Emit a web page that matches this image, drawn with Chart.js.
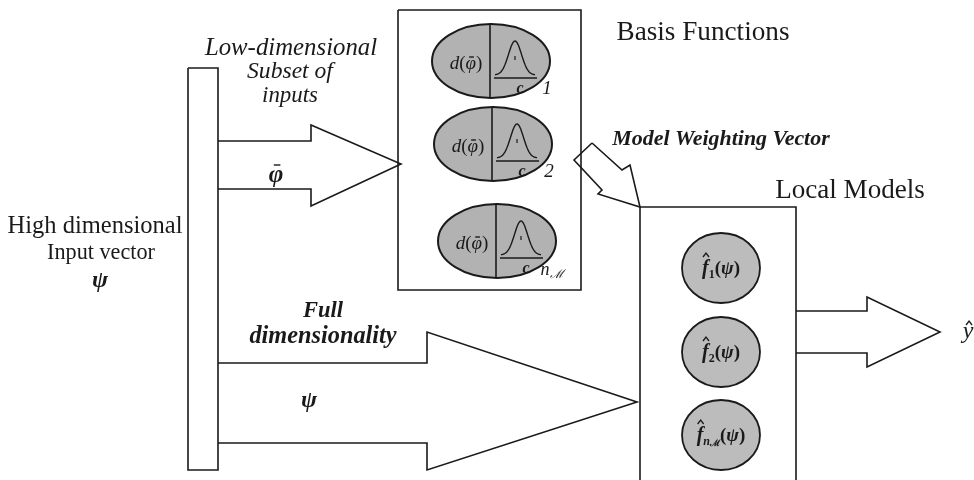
<!DOCTYPE html>
<html>
<head>
<meta charset="utf-8">
<script src="https://cdn.jsdelivr.net/npm/chart.js@4"></script>
<style>
  html, body { margin: 0; padding: 0; background: #fff; }
  #diagrama { display: block; }
</style>
</head>
<body>
<canvas id="diagrama" width="974" height="480"></canvas>
<script>
// Outlines of the diagram, in axis units (x 0..974, y 0..480 from the top)
const inputBar = [[188, 68], [218, 68], [218, 470], [188, 470], [188, 68]];
const subsetArrow = [[218, 141], [311, 141], [311, 125], [401, 164], [311, 206], [311, 189], [218, 189]];
const fullArrow = [[218, 363], [427, 363], [427, 332], [637, 402], [427, 470], [427, 443], [218, 443]];
const outputArrow = [[796, 311], [867, 311], [867, 297], [940, 332], [867, 367], [867, 353], [796, 353]];
const weightArrow = [[592, 143], [622, 170], [630, 165], [640, 207], [598, 194], [602, 190], [574, 160], [592, 143]];
const basisBox = [[398, 10], [581, 10], [581, 290], [398, 290], [398, 10]];
const localBox = [[640, 490], [640, 207], [796, 207], [796, 490]];

// Basis function cells and local model nodes
const basisCentres = [[491, 61], [493, 144], [497, 241]];
const basisIndex = ["1", "2", "n"];
const modelCentres = [[721, 268], [721, 352], [721, 435]];
const modelIndex = ["1", "2", "n"];

// Plain text labels: text, centre x, baseline y, width in the figure
const etiquetas = [
    ["Low-dimensional", 291, 55, 172, "italic"],
    ["Subset of", 290, 78, 86, "italic"],
    ["inputs", 290, 102, 56, "italic"],
    ["High dimensional", 95, 233, 175, ""],
    ["Input vector", 101, 259, 108, ""],
    ["Full", 323, 317, 40, "italic bold"],
    ["dimensionality", 323, 343, 147, "italic bold"],
    ["Basis Functions", 703, 40, 173, ""],
    ["Model Weighting Vector", 721, 145, 217, "italic bold"],
    ["Local Models", 850, 198, 150, ""]
];

const SERIF = '"Liberation Serif", "DejaVu Serif", serif';
const INK = "#1a1a1a";

function fuente(estilo, size) {
    return (estilo ? estilo + " " : "") + size.toFixed(1) + "px " + SERIF;
}

// writes a row of segments centred at cx, baseline y
function textoRico(ctx, segs, cx, y) {
    let total = 0;
    segs.forEach(function (s) {
        ctx.font = s.f;
        s.w = ctx.measureText(s.t).width;
        total += s.w;
    });
    let x = cx - total / 2;
    ctx.textAlign = "left";
    ctx.textBaseline = "alphabetic";
    segs.forEach(function (s) {
        ctx.font = s.f;
        const yy = y + (s.dy || 0);
        ctx.fillText(s.t, x, yy);
        const m = ctx.measureText(s.t);
        if (s.bar) {
            const top = yy - m.actualBoundingBoxAscent - (s.gap || 2);
            ctx.beginPath();
            ctx.moveTo(x + s.w * 0.35, top);
            ctx.lineTo(x + s.w * 0.8, top);
            ctx.lineWidth = 1.4;
            ctx.stroke();
        }
        if (s.hat) {
            const top = yy - m.actualBoundingBoxAscent - 2;
            const mid = x + s.w * 0.6;
            ctx.beginPath();
            ctx.moveTo(mid - 3, top);
            ctx.lineTo(mid, top - 4);
            ctx.lineTo(mid + 3, top);
            ctx.lineWidth = 1.3;
            ctx.stroke();
        }
        x += s.w;
    });
}

const dibujoPlugin = {
    id: "dibujo",
    afterDatasetsDraw(chart) {
        const ctx = chart.ctx;
        const sx = chart.scales.x;
        const sy = chart.scales.y;
        const X = v => sx.getPixelForValue(v);
        const Y = v => sy.getPixelForValue(v);
        const kx = Math.abs(X(1) - X(0));
        const ky = Math.abs(Y(1) - Y(0));

        ctx.save();
        ctx.fillStyle = INK;
        ctx.strokeStyle = INK;

        // basis function cells
        basisCentres.forEach(function (c, i) {
            const px = X(c[0]), py = Y(c[1]);
            ctx.beginPath();
            ctx.ellipse(px, py, 59 * kx, 37 * ky, 0, 0, Math.PI * 2);
            ctx.fillStyle = "#b2b2b2";
            ctx.fill();
            ctx.lineWidth = 2;
            ctx.strokeStyle = INK;
            ctx.stroke();
            ctx.beginPath();
            ctx.moveTo(px - 1 * kx, py - 37 * ky);
            ctx.lineTo(px - 1 * kx, py + 37 * ky);
            ctx.lineWidth = 1.6;
            ctx.stroke();

            // bell curve
            ctx.beginPath();
            for (let t = -20; t <= 20; t += 0.5) {
                const g = Math.exp(-(t * t) / (2 * 6.5 * 6.5));
                const bx = px + (24 + t) * kx;
                const by = py + (14 - 34 * g) * ky;
                if (t === -20) ctx.moveTo(bx, by); else ctx.lineTo(bx, by);
            }
            ctx.lineWidth = 1.4;
            ctx.stroke();
            ctx.beginPath();
            ctx.moveTo(px + 3 * kx, py + 17 * ky);
            ctx.lineTo(px + 46 * kx, py + 17 * ky);
            ctx.lineWidth = 1.7;
            ctx.stroke();
            ctx.beginPath();
            ctx.moveTo(px + 24 * kx, py - 5 * ky);
            ctx.lineTo(px + 24 * kx, py - 1 * ky);
            ctx.lineWidth = 1.2;
            ctx.stroke();

            ctx.fillStyle = INK;
            textoRico(ctx, [
                { t: "d", f: fuente("italic", 19) },
                { t: "(", f: fuente("", 19) },
                { t: "\u03c6", f: fuente("italic", 19), bar: true, gap: 3 },
                { t: ")", f: fuente("", 19) }
            ], px - 25 * kx, py + 8 * ky);
            textoRico(ctx, [{ t: "c", f: fuente("italic bold", 16) }], px + 29 * kx, py + 32 * ky);

            if (basisIndex[i] === "n") {
                textoRico(ctx, [
                    { t: "n", f: fuente("italic", 18) },
                    { t: "\u2133", f: fuente("italic", 12), dy: 3 }
                ], px + 55 * kx, py + 34 * ky);
            } else {
                textoRico(ctx, [{ t: basisIndex[i], f: fuente("italic", 19) }], px + 56 * kx, py + 33 * ky);
            }
        });

        // local model nodes
        modelCentres.forEach(function (c, i) {
            const px = X(c[0]), py = Y(c[1]);
            ctx.beginPath();
            ctx.ellipse(px, py, 39 * kx, 35 * ky, 0, 0, Math.PI * 2);
            ctx.fillStyle = "#bcbcbc";
            ctx.fill();
            ctx.lineWidth = 1.8;
            ctx.strokeStyle = INK;
            ctx.stroke();
            ctx.fillStyle = INK;
            const segs = [{ t: "f", f: fuente("italic bold", 20), hat: true }];
            if (modelIndex[i] === "n") {
                segs.push({ t: "n", f: fuente("italic bold", 12), dy: 4 });
                segs.push({ t: "\u2133", f: fuente("bold", 9), dy: 5 });
            } else {
                segs.push({ t: modelIndex[i], f: fuente("bold", 12), dy: 4 });
            }
            segs.push({ t: "(", f: fuente("bold", 19) });
            segs.push({ t: "\u03c8", f: fuente("italic bold", 19) });
            segs.push({ t: ")", f: fuente("bold", 19) });
            textoRico(ctx, segs, px, py + 6 * ky);
        });

        // labels fitted to their width
        etiquetas.forEach(function (e) {
            ctx.font = fuente(e[4], 100);
            const w100 = ctx.measureText(e[0]).width;
            const size = 100 * e[3] * kx / w100;
            ctx.font = fuente(e[4], size);
            ctx.textAlign = "center";
            ctx.textBaseline = "alphabetic";
            ctx.fillText(e[0], X(e[1]), Y(e[2]));
        });

        // symbols
        textoRico(ctx, [{ t: "\u03c8", f: fuente("italic bold", 24) }], X(100), Y(287));
        textoRico(ctx, [{ t: "\u03c8", f: fuente("italic bold", 24) }], X(309), Y(407));
        textoRico(ctx, [{ t: "\u03c6", f: fuente("italic bold", 25), bar: true, gap: 5 }], X(276), Y(182));
        textoRico(ctx, [{ t: "y", f: fuente("italic", 24), hat: true }], X(968), Y(338));

        ctx.restore();
    }
};

const formas = [inputBar, subsetArrow, fullArrow, outputArrow, weightArrow, basisBox, localBox];

const config = {
    type: "scatter",
    data: {
        datasets: formas.map(function (f) {
            return {
                data: f.map(p => ({ x: p[0], y: p[1] })),
                showLine: true,
                borderColor: INK,
                borderWidth: 1.6,
                pointRadius: 0,
                fill: false,
                tension: 0
            };
        })
    },
    options: {
        responsive: false,
        animation: false,
        events: [],
        layout: { padding: 0 },
        scales: {
            x: { type: "linear", min: 0, max: 974, display: false },
            y: { type: "linear", min: 0, max: 480, reverse: true, display: false }
        },
        plugins: {
            legend: { display: false },
            tooltip: { enabled: false }
        }
    },
    plugins: [dibujoPlugin]
};

const ctx = document.getElementById("diagrama").getContext("2d");
new Chart(ctx, config);
</script>
</body>
</html>
